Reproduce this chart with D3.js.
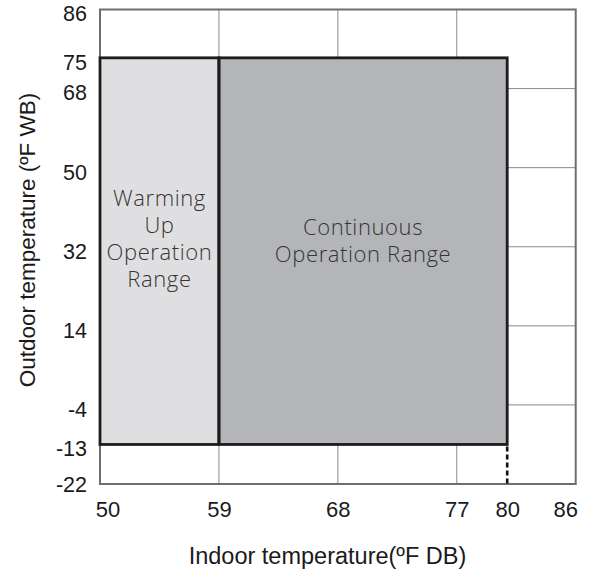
<!DOCTYPE html>
<html>
<head>
<meta charset="utf-8">
<script src="https://cdn.jsdelivr.net/npm/d3@7"></script>
<style>
  html, body { margin: 0; padding: 0; background: #ffffff; }
  svg { display: block; }
</style>
</head>
<body>
<svg id="chart" width="590" height="570"></svg>
<script>
// ---- data ----
const xTicks = [50, 59, 68, 77, 80, 86];
const xTickLabels = ["50", "59", "68", "77", "80", "86"];
const yTicks = [86, 75, 68, 50, 32, 14, -4, -13, -22];
const yTickLabels = ["86", "75", "68", "50", "32", "14", "-4", "-13", "-22"];
const xGrid = [59, 68, 77];
const yGrid = [68, 50, 32, 14, -4];
const regionNames = ["Warming Up Operation Range", "Continuous Operation Range"];
const regionX0 = [50, 59];
const regionX1 = [59, 80];
const regionY0 = [-13, -13];
const regionY1 = [75, 75];
const regionLines = [["Warming", "Up", "Operation", "Range"], ["Continuous", "Operation Range"]];
const xTitle = "Indoor temperature(ºF DB)";
const yTitle = "Outdoor temperature (ºF WB)";

// ---- layout ----
const margin = { left: 100, top: 9.5 };
const W = 475.7, H = 474.5;
const svg = d3.select("#chart");
const g = svg.append("g").attr("transform", `translate(${margin.left},${margin.top})`);

// x axis is piecewise (original chart is spaced in °C)
const x = d3.scaleLinear().domain([50, 77, 80, 86]).range([0, 0.75 * W, 0.856 * W, W]);
const y = d3.scaleLinear().domain([-22, 86]).range([H, 0]);

const fills = ["#dfdfe1", "#b4b5b9"];

// grid
g.selectAll(".vg").data(xGrid).enter().append("line")
  .attr("x1", d => x(d)).attr("x2", d => x(d)).attr("y1", 0).attr("y2", H)
  .attr("stroke", "#8a8a8a").attr("stroke-width", 1);
g.selectAll(".hg").data(yGrid).enter().append("line")
  .attr("x1", 0).attr("x2", W).attr("y1", d => y(d)).attr("y2", d => y(d))
  .attr("stroke", "#8a8a8a").attr("stroke-width", 1);

// regions
const regions = regionNames.map((n, i) => ({ n, i, x0: regionX0[i], x1: regionX1[i], y0: regionY0[i], y1: regionY1[i] }));
g.selectAll(".reg").data(regions).enter().append("rect")
  .attr("x", d => x(d.x0)).attr("y", d => y(d.y1))
  .attr("width", d => x(d.x1) - x(d.x0)).attr("height", d => y(d.y0) - y(d.y1))
  .attr("fill", d => fills[d.i]);

// outer frame
g.append("rect").attr("x", 0).attr("y", 0).attr("width", W).attr("height", H)
  .attr("fill", "none").attr("stroke", "#6e6e6e").attr("stroke-width", 2);

// region borders
g.selectAll(".regb").data(regions).enter().append("rect")
  .attr("x", d => x(d.x0)).attr("y", d => y(d.y1))
  .attr("width", d => x(d.x1) - x(d.x0)).attr("height", d => y(d.y0) - y(d.y1))
  .attr("fill", "none").attr("stroke", "#1c1c1c").attr("stroke-width", 2.8);

// dashed drop line at region right edge
g.append("line")
  .attr("x1", x(regionX1[1])).attr("x2", x(regionX1[1]))
  .attr("y1", y(regionY0[1]) + 2).attr("y2", y(-22))
  .attr("stroke", "#111111").attr("stroke-width", 2.6).attr("stroke-dasharray", "5,3");

// region labels
const anchorsY = [-40.7, -11.7];
regions.forEach((d, i) => {
  const cx = (x(d.x0) + x(d.x1)) / 2;
  const t = g.append("text").attr("text-anchor", "middle")
    .attr("font-family", "'Open Sans', 'Noto Sans', sans-serif")
    .attr("font-weight", 300)
    .attr("letter-spacing", 0.6)
    .attr("font-size", 22).attr("fill", "#353535");
  regionLines[i].forEach((line, k) => {
    t.append("tspan").attr("x", cx).attr("y", y(32) + anchorsY[i] + k * 27).text(line);
  });
});

// axes
const xAxis = d3.axisBottom(x).tickValues(xTicks).tickSize(0).tickPadding(0)
  .tickFormat((d, i) => xTickLabels[i]);
const gx = g.append("g").attr("transform", `translate(0,${H})`).call(xAxis);
gx.select(".domain").remove();
gx.selectAll("text").attr("font-family", "'Liberation Sans', Arial, sans-serif")
  .attr("font-size", 22).attr("fill", "#1a1a1a").attr("dy", null).attr("y", 33);
gx.selectAll(".tick").filter(d => d === xTicks[0]).select("text").attr("dx", 7.5);
gx.selectAll(".tick").filter(d => d === xTicks[xTicks.length - 1]).select("text").attr("dx", -10.5);

const yAxis = d3.axisLeft(y).tickValues(yTicks).tickSize(0).tickPadding(13)
  .tickFormat((d, i) => yTickLabels[i]);
const gy = g.append("g").call(yAxis);
gy.select(".domain").remove();
gy.selectAll("text").attr("font-family", "'Liberation Sans', Arial, sans-serif")
  .attr("font-size", 21.5).attr("fill", "#1a1a1a").attr("dy", "0.53em");
gy.selectAll(".tick").filter(d => d === yTicks[yTicks.length - 1]).select("text").attr("dy", "0.35em");

// titles
svg.append("text").attr("x", 327.5).attr("y", 564).attr("text-anchor", "middle")
  .attr("font-family", "'Liberation Sans', Arial, sans-serif").attr("font-size", 23.5)
  .attr("fill", "#1a1a1a").text(xTitle);
svg.append("text").attr("transform", "translate(35,240) rotate(-90)").attr("text-anchor", "middle")
  .attr("font-family", "'Liberation Sans', Arial, sans-serif").attr("font-size", 22.5)
  .attr("fill", "#1a1a1a").text(yTitle);
</script>
</body>
</html>
